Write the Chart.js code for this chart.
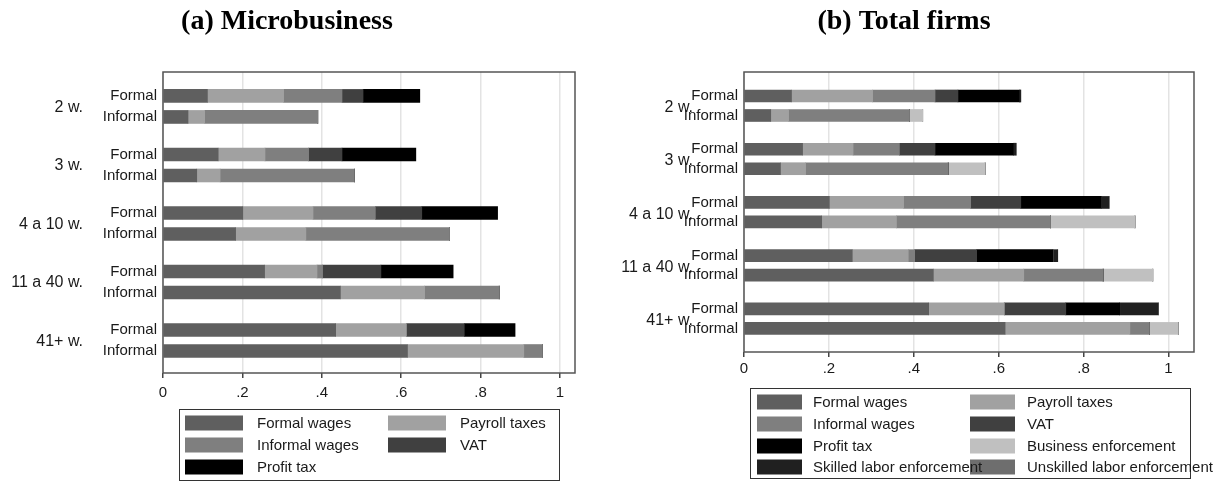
<!DOCTYPE html>
<html>
<head>
<meta charset="utf-8">
<script src="https://cdn.jsdelivr.net/npm/chart.js@4.4.1/dist/chart.umd.min.js"></script>
<style>
    body { margin: 0; background: #fff; width: 1223px; height: 482px; overflow: hidden; display: flex; }
    .panel { position: relative; height: 482px; }
</style>
</head>
<body>
<div class="panel" style="width:611px"><canvas id="chartMicro" width="611" height="482"></canvas></div>
<div class="panel" style="width:612px"><canvas id="chartTotal" width="612" height="482"></canvas></div>
<script>
// Groups (firm size) and the two bars in each group
const groups = ['2 w.', '3 w.', '4 a 10 w.', '11 a 40 w.', '41+ w.'];
const rowTypes = ['Formal', 'Informal'];
const xTicks = [0, 0.2, 0.4, 0.6, 0.8, 1];
const xTickLabels = ['0', '.2', '.4', '.6', '.8', '1'];

const seriesNames = ['Formal wages', 'Payroll taxes', 'Informal wages', 'VAT', 'Profit tax',
    'Business enforcement', 'Skilled labor enforcement', 'Unskilled labor enforcement'];
const seriesColors = ['#5f5f5f', '#a1a1a1', '#7f7f7f', '#404040', '#000000', '#c0c0c0', '#202020', '#6e6e6e'];

// rows: 2w Formal, 2w Informal, 3w Formal, 3w Informal, ... 41+ Formal, 41+ Informal
// (a) Microbusiness
const microFormalWages   = [0.112, 0.063, 0.139, 0.085, 0.201, 0.183, 0.256, 0.447, 0.435, 0.616];
const microPayrollTaxes  = [0.192, 0.042, 0.118, 0.059, 0.177, 0.177, 0.132, 0.212, 0.178, 0.293];
const microInformalWages = [0.147, 0.285, 0.110, 0.338, 0.157, 0.362, 0.014, 0.188, 0, 0.047];
const microVAT           = [0.053, 0, 0.084, 0, 0.117, 0, 0.147, 0, 0.146, 0];
const microProfitTax     = [0.143, 0, 0.186, 0, 0.191, 0, 0.182, 0, 0.128, 0];

// (b) Total firms
const totalFormalWages   = [0.112, 0.063, 0.138, 0.086, 0.201, 0.183, 0.255, 0.446, 0.435, 0.615];
const totalPayrollTaxes  = [0.191, 0.042, 0.119, 0.059, 0.175, 0.176, 0.132, 0.213, 0.178, 0.294];
const totalInformalWages = [0.147, 0.285, 0.109, 0.336, 0.158, 0.363, 0.015, 0.187, 0, 0.046];
const totalVAT           = [0.054, 0, 0.084, 0, 0.118, 0, 0.146, 0, 0.145, 0];
const totalProfitTax     = [0.145, 0, 0.185, 0, 0.190, 0, 0.180, 0, 0.127, 0];
const totalBusinessEnf   = [0, 0.031, 0, 0.087, 0, 0.199, 0, 0.117, 0, 0.068];
const totalSkilledEnf    = [0.003, 0, 0.006, 0, 0.018, 0, 0.011, 0, 0.091, 0];
const totalUnskilledEnf  = [0, 0, 0, 0, 0, 0, 0, 0, 0, 0];

const SANS = '"Liberation Sans", Arial, Helvetica, sans-serif';
const SERIF = '"Liberation Serif", "Times New Roman", serif';
const TEXT = '#1a1a1a';

// bar row position on the y scale: groups are spaced by groupStep, formal/informal by 1
function rowPos(r, step) {
    return Math.floor(r / 2) * step + (r % 2);
}

// Frame, group labels, title and boxed legend
const decorPlugin = {
    id: 'decor',
    afterDraw(chart, args, o) {
        const ctx = chart.ctx;
        const a = chart.chartArea;
        const yScale = chart.scales.y;
        ctx.save();

        ctx.strokeStyle = '#555';
        ctx.lineWidth = 1.5;
        ctx.strokeRect(a.left, a.top, a.right - a.left, a.bottom - a.top);

        ctx.fillStyle = TEXT;
        ctx.font = '16px ' + SANS;
        ctx.textAlign = 'right';
        ctx.textBaseline = 'middle';
        groups.forEach((g, i) => {
            ctx.fillText(g, a.left - o.groupGap, yScale.getPixelForValue(i * o.groupStep + 0.5) + o.groupDy);
        });

        ctx.font = 'bold 28px ' + SERIF;
        ctx.textAlign = 'center';
        ctx.textBaseline = 'alphabetic';
        ctx.fillStyle = '#000';
        ctx.fillText(o.title, o.titleX, 29);

        const L = o.legend;
        ctx.strokeStyle = '#333';
        ctx.lineWidth = 1;
        ctx.strokeRect(L.x + 0.5, L.y + 0.5, L.w, L.h);
        const items = chart.data.datasets;
        items.forEach((ds, i) => {
            const col = i % 2, row = Math.floor(i / 2);
            ctx.fillStyle = ds.backgroundColor;
            ctx.fillRect(L.swatchX[col], L.rowY[row] - 7.5, L.swatchW, 15);
        });
        ctx.font = '15px ' + SANS;
        ctx.textAlign = 'left';
        ctx.textBaseline = 'middle';
        ctx.fillStyle = TEXT;
        items.forEach((ds, i) => {
            const col = i % 2, row = Math.floor(i / 2);
            ctx.fillText(ds.label, L.textX[col], L.rowY[row] + 1);
        });
        ctx.restore();
    }
};

function makeChart(canvasId, series, cfg) {
    const rows = series[0].map((_, r) => r);
    const datasets = series.map((vals, i) => ({
        label: seriesNames[i],
        data: vals.map((v, r) => ({ x: v, y: rowPos(r, cfg.groupStep) })),
        backgroundColor: seriesColors[i],
        borderWidth: 0,
        barThickness: cfg.barThickness
    }));

    return new Chart(document.getElementById(canvasId), {
        type: 'bar',
        data: { datasets },
        plugins: [decorPlugin],
        options: {
            indexAxis: 'y',
            responsive: false,
            animation: false,
            layout: { padding: { left: 0, right: cfg.padRight, top: cfg.top, bottom: 0 } },
            plugins: {
                legend: { display: false },
                tooltip: { enabled: false },
                decor: {
                    title: cfg.title,
                    titleX: cfg.titleX,
                    groupGap: cfg.groupGap,
                    groupDy: cfg.groupDy,
                    groupStep: cfg.groupStep,
                    legend: cfg.legend
                }
            },
            scales: {
                x: {
                    type: 'linear',
                    stacked: true,
                    bounds: 'data',
                    min: 0,
                    max: cfg.xMax,
                    afterBuildTicks: s => { s.ticks = xTicks.map(v => ({ value: v })); },
                    afterFit: s => { s.height = cfg.xAxisHeight; },
                    ticks: {
                        callback: (v, i) => xTickLabels[i],
                        font: { family: SANS, size: 15 },
                        color: TEXT,
                        padding: cfg.xTickPad,
                        maxRotation: 0,
                        autoSkip: false
                    },
                    grid: { color: '#e3e3e3', lineWidth: 1.5, tickColor: '#444', tickLength: 5, drawTicks: true },
                    border: { display: false }
                },
                y: {
                    type: 'linear',
                    stacked: true,
                    bounds: 'data',
                    offset: false,
                    reverse: true,
                    min: cfg.yMin,
                    max: cfg.yMax,
                    afterBuildTicks: s => { s.ticks = rows.map(r => ({ value: rowPos(r, cfg.groupStep) })); },
                    afterFit: s => { s.width = cfg.yAxisWidth; },
                    ticks: {
                        callback: (v, i) => rowTypes[i % 2],
                        font: { family: SANS, size: 15 },
                        color: TEXT,
                        padding: 6,
                        autoSkip: false
                    },
                    grid: { display: false, drawTicks: false, offset: false },
                    border: { display: false }
                }
            }
        }
    });
}

makeChart('chartMicro',
    [microFormalWages, microPayrollTaxes, microInformalWages, microVAT, microProfitTax],
    {
        title: '(a) Microbusiness', titleX: 287,
        top: 72, padRight: 36, yAxisWidth: 163, xAxisHeight: 109, xMax: 1.038, xTickPad: 6,
        yMin: -1.14, yMax: 13.19, groupStep: 2.786, barThickness: 13, groupGap: 80, groupDy: 1,
        legend: { x: 179, y: 409, w: 380, h: 71, swatchX: [185, 388], swatchW: 58, textX: [257, 460], rowY: [423, 445, 467] }
    });

makeChart('chartTotal',
    [totalFormalWages, totalPayrollTaxes, totalInformalWages, totalVAT, totalProfitTax,
     totalBusinessEnf, totalSkilledEnf, totalUnskilledEnf],
    {
        title: '(b) Total firms', titleX: 293,
        top: 72, padRight: 29, yAxisWidth: 133, xAxisHeight: 130, xMax: 1.06, xTickPad: 3,
        yMin: -1.23, yMax: 13.13, groupStep: 2.73, barThickness: 12, groupGap: 51, groupDy: 2,
        legend: { x: 139, y: 388, w: 440, h: 90, swatchX: [146, 359], swatchW: 45, textX: [202, 416], rowY: [402, 424, 446, 467] }
    });
</script>
</body>
</html>
